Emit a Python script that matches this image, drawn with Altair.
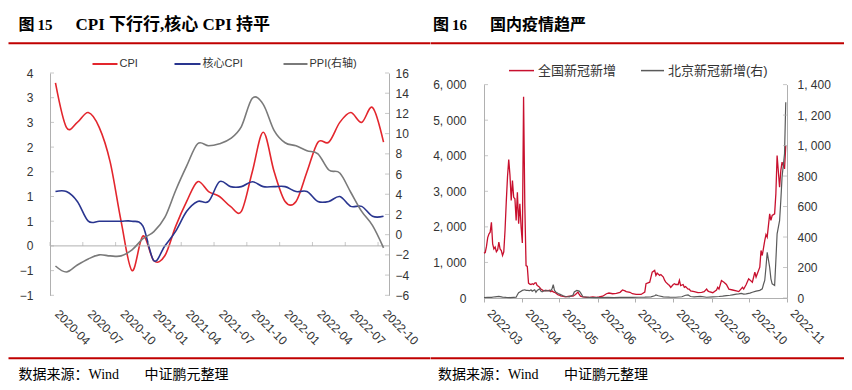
import altair as alt
import pandas as pd

# ---------------- 图15 data (monthly, %) ----------------
months = ["2020-04", "2020-05", "2020-06", "2020-07", "2020-08", "2020-09", "2020-10",
          "2020-11", "2020-12", "2021-01", "2021-02", "2021-03", "2021-04", "2021-05",
          "2021-06", "2021-07", "2021-08", "2021-09", "2021-10", "2021-11", "2021-12",
          "2022-01", "2022-02", "2022-03", "2022-04", "2022-05", "2022-06", "2022-07",
          "2022-08", "2022-09", "2022-10"]
cpi = [3.3, 2.4, 2.5, 2.7, 2.4, 1.7, 0.5, -0.5, 0.2,
       -0.3, -0.2, 0.4, 0.9, 1.3, 1.1, 1.0, 0.8, 0.7, 1.5, 2.3, 1.5,
       0.9, 0.9, 1.5, 2.1, 2.1, 2.5, 2.7, 2.5, 2.8, 2.1]
core = [1.1, 1.1, 0.9, 0.5, 0.5, 0.5, 0.5, 0.5, 0.4,
        -0.3, 0.0, 0.3, 0.7, 0.9, 0.9, 1.3, 1.2, 1.2, 1.3, 1.2, 1.2,
        1.2, 1.1, 1.1, 0.9, 0.9, 1.0, 0.8, 0.8, 0.6, 0.6]
ppi = [-3.1, -3.7, -3.0, -2.4, -2.0, -2.1, -2.1, -1.5, -0.4,
       0.3, 1.7, 4.4, 6.8, 9.0, 8.8, 9.0, 9.5, 10.7, 13.5, 12.9, 10.3,
       9.1, 8.8, 8.3, 8.0, 6.4, 6.1, 4.2, 2.3, 0.9, -1.3]
tick_months = ["2020-04", "2020-07", "2020-10", "2021-01", "2021-04", "2021-07",
               "2021-10", "2022-01", "2022-04", "2022-07", "2022-10"]
left_vals = [-1, -0.5, 0, 0.5, 1, 1.5, 2, 2.5, 3, 3.5]
ppi_vals = [-6, -4, -2, 0, 2, 4, 6, 8, 10, 12, 14, 16]

# ---------------- 图16 data (daily new cases, day offset from 2022-03-01) ----------------
nat_day = [0, 1, 2, 3, 4, 5, 6, 7, 8, 9, 10, 11, 12, 13, 14, 15, 16, 17, 18, 19, 20,
           21, 22, 23, 24, 25, 26, 27, 28, 29, 30, 31, 32, 33, 34, 35, 36, 37, 38, 39,
           40, 41, 42, 43, 44, 45, 46, 47, 48, 49, 50, 51, 52, 53, 54, 55, 56, 57, 58,
           59, 60, 61, 62, 63, 64, 66, 69, 72, 74, 76, 77, 78, 80, 83, 85, 88, 91, 93,
           96, 99, 101, 104, 107, 110, 112, 114, 115, 118, 120, 123, 125, 127, 130, 131,
           134, 136, 138, 139, 140, 142, 143, 145, 146, 147, 149, 150, 151, 153, 154,
           155, 157, 158, 159, 161, 162, 163, 165, 166, 167, 170, 173, 176, 178, 180,
           181, 182, 185, 188, 189, 190, 192, 194, 196, 198, 201, 204, 206, 209, 210,
           212, 214, 217, 219, 220, 223, 224, 225, 227, 228, 229, 231, 232, 233, 235,
           236, 237, 239, 240, 241, 243, 244]
nat_val = [1260, 1280, 1450, 1700, 1800, 1850, 2130, 1520, 1380, 1430, 1300, 1350, 1570,
           1380, 1335, 1195, 1300, 1900, 2700, 3400, 3890, 3450, 2740, 3300, 2830, 2790,
           2180, 2975, 2090, 2650, 1990, 1550, 5660, 2600, 913, 890, 420, 390, 380, 400,
           380, 420, 430, 350, 330, 300, 250, 230, 210, 200, 220, 200, 210, 220, 180, 200,
           170, 160, 140, 110, 90, 80, 60, 50, 45, 30, 50, 50, 100, 165, 100, 50, 30, 20,
           20, 30, 20, 30, 50, 120, 140, 120, 130, 160, 225, 200, 180, 160, 120, 100, 100,
           100, 165, 400, 445, 725, 775, 635, 700, 635, 660, 590, 500, 445, 380, 350, 300,
           380, 400, 380, 380, 500, 350, 380, 300, 320, 250, 250, 200, 180, 150, 160, 180,
           250, 200, 180, 150, 225, 300, 250, 490, 445, 380, 250, 225, 200, 180, 300, 250,
           380, 540, 445, 725, 590, 866, 1335, 1195, 1616, 1785, 1710, 2367, 2180, 2320,
           2367, 2930, 4006, 3115, 3580, 3820, 3630, 4287]
bj_day = [0, 3, 6, 9, 12, 15, 18, 21, 24, 26, 27, 28, 30, 31, 33, 34, 35, 37, 38, 39, 41,
          42, 43, 45, 46, 47, 49, 50, 51, 53, 54, 55, 56, 57, 58, 60, 62, 64, 66, 69, 72,
          73, 75, 77, 78, 80, 85, 90, 95, 100, 105, 110, 115, 120, 125, 130, 135, 138,
          139, 141, 145, 150, 155, 160, 163, 165, 167, 170, 175, 180, 185, 190, 193, 196,
          199, 201, 204, 206, 208, 210, 212, 215, 217, 220, 223, 225, 226, 227, 228, 229,
          230, 231, 232, 233, 235, 236, 237, 239, 240, 241, 243, 244]
bj_val = [3, 5, 4, 8, 10, 6, 4, 3, 4, 5, 21, 35, 45, 50, 54, 50, 50, 48, 54, 45, 54,
          38, 50, 60, 45, 40, 50, 45, 50, 45, 50, 60, 88, 50, 40, 30, 22, 15, 10, 8, 20,
          40, 50, 45, 35, 8, 4, 3, 3, 4, 3, 4, 5, 4, 5, 6, 8, 15,
          20, 15, 8, 6, 5, 8, 18, 20, 10, 8, 10, 5, 8, 10, 12, 15,
          18, 21, 25, 27, 30, 25, 27, 32, 38, 45, 50, 60, 90, 115, 202, 300,
          250, 200, 126, 93, 82, 246, 421, 508, 640, 793, 946, 1284]
nat_vals_axis = [0, 1000, 2000, 3000, 4000, 5000, 6000]
bj_vals_axis = [0, 200, 400, 600, 800, 1000, 1200, 1400]

# ---------------- styling ----------------
SANS = "Liberation Sans, Noto Sans CJK SC"
SERIF = "Liberation Serif, Noto Sans CJK SC"
GRAY = "#b0b0b0"
LABEL = "#333333"
RED_BAND = "#c00000"

# both panels share the same view top (page y 70.7)
OY = 70.7
W1, H1 = 339, 222.3
W2, H2 = 303, 225.0          # right view; its y range starts 11.6px below the view top
R_TOP = 82.3 - OY
TB = 27.5 - OY               # title baseline (relative to the view top)

one = pd.DataFrame({"k": [0]})


def text(x, y, s, size, font, weight="normal", color="#000000"):
    return alt.Chart(one).mark_text(
        align="left", baseline="alphabetic", fontSize=size, font=font,
        fontWeight=weight, color=color
    ).encode(x=alt.value(x), y=alt.value(y), text=alt.value(s))


def legend_text(x, y, s, size):
    return alt.Chart(one).mark_text(
        align="left", baseline="middle", fontSize=size, font=SANS, color=LABEL
    ).encode(x=alt.value(x), y=alt.value(y), text=alt.value(s))


def sample(x1, x2, y, color, width):
    return alt.Chart(one).mark_rule(color=color, strokeWidth=width).encode(
        x=alt.value(x1), x2=alt.value(x2), y=alt.value(y))


def band(x1, x2, y1, y2):
    return alt.Chart(one).mark_rect(color=RED_BAND).encode(
        x=alt.value(x1), x2=alt.value(x2), y=alt.value(y1), y2=alt.value(y2))


# ---------------- left panel ----------------
df1 = pd.DataFrame({"month": months, "cpi": cpi, "core": core, "ppi": ppi})
x1 = alt.X("month:O", scale=alt.Scale(type="point", padding=0.5),
           axis=alt.Axis(values=tick_months, labelAngle=45, labelAlign="left",
                         labelBaseline="middle", labelPadding=16, labelOffset=1,
                         ticks=False, domain=False, title=None))
yl = alt.Y("cpi:Q", scale=alt.Scale(domain=[-1, 3.5], nice=False, zero=False),
           axis=alt.Axis(values=left_vals, tickCount=len(left_vals),
                         labelExpr="format(datum.value >= 0 ? ceil(datum.value) : floor(datum.value), 'd')",
                         ticks=False, domainColor=GRAY, labelPadding=17, title=None))

cpi_line = alt.Chart(df1).mark_line(color="#e3262d", strokeWidth=1.6, interpolate="cardinal").encode(x=x1, y=yl)
core_line = alt.Chart(df1).mark_line(color="#29358f", strokeWidth=1.6, interpolate="cardinal").encode(
    x=x1, y=alt.Y("core:Q", title=None))
zero_rule = alt.Chart(pd.DataFrame({"v": [0]})).mark_rule(color=GRAY, strokeWidth=1).encode(y=alt.Y("v:Q", title=None))
zero_ticks = alt.Chart(pd.DataFrame({"month": tick_months, "v": [0] * len(tick_months)})).mark_tick(
    orient="vertical", size=4, thickness=1, color=GRAY, xOffset=-W1 / 62, yOffset=-2
).encode(x=x1, y=alt.Y("v:Q", title=None))
lticks = alt.Chart(pd.DataFrame({"v": left_vals})).mark_tick(
    orient="horizontal", size=4, thickness=1, color=GRAY).encode(x=alt.value(2), y=alt.Y("v:Q", title=None))

L0 = 49.5
left_deco = [
    text(18 - L0, TB, "图", 16, SERIF, "bold"),
    text(37 - L0, TB, "15", 15, SERIF, "bold"),
    text(75 - L0, TB, "CPI 下行行,核心 CPI 持平", 17, SERIF, "bold"),
    band(8 - L0, 430 - L0, 40 - OY, 42 - OY),
    band(8 - L0, 430 - L0, 355 - OY, 357 - OY),
    text(18 - L0, 377 - OY, "数据来源：Wind", 14, SERIF),
    text(144 - L0, 377 - OY, "中证鹏元整理", 14, SERIF),
    sample(42.5, 67.5, 61.7 - OY, "#e3262d", 2), legend_text(69.5, 61.7 - OY, "CPI", 11),
    sample(124.5, 150.5, 61.7 - OY, "#29358f", 2), legend_text(152.5, 61.7 - OY, "核心CPI", 11),
    sample(233.5, 257.5, 61.7 - OY, "#7a7a7a", 2), legend_text(259.5, 61.7 - OY, "PPI(右轴)", 11),
]

ppi_line = alt.Chart(df1).mark_line(color="#7a7a7a", strokeWidth=1.6, interpolate="cardinal").encode(
    x=x1,
    y=alt.Y("ppi:Q", scale=alt.Scale(domain=[-6, 16], nice=False, zero=False),
            axis=alt.Axis(orient="right", values=ppi_vals, tickCount=len(ppi_vals), ticks=False,
                          domainColor=GRAY, labelPadding=6, title=None, format="d")))
rticks = alt.Chart(pd.DataFrame({"v": ppi_vals})).mark_tick(
    orient="horizontal", size=4, thickness=1, color=GRAY).encode(x=alt.value(W1 - 2), y=alt.Y("v:Q", title=None))

left_panel = alt.layer(
    alt.layer(cpi_line, core_line, zero_rule, zero_ticks, lticks, *left_deco),
    alt.layer(ppi_line, rticks),
).resolve_scale(y="independent").properties(width=W1, height=H1)

# ---------------- right panel ----------------
start = pd.Timestamp("2022-03-01")
nat = pd.DataFrame({"date": start + pd.to_timedelta(nat_day, unit="D"), "v": nat_val})
bj = pd.DataFrame({"date": start + pd.to_timedelta(bj_day, unit="D"), "v": bj_val})

comma_expr = "replace(format(datum.value, ','), ',', ', ')"
x2 = alt.X("date:T",
           scale=alt.Scale(domain=[alt.DateTime(year=2022, month=3, date=1),
                                   alt.DateTime(year=2022, month=11, date=1)]),
           axis=alt.Axis(values=[alt.DateTime(year=2022, month=m, date=1) for m in range(3, 12)],
                         tickCount=9,
                         format="%Y-%m", labelAngle=45, labelAlign="left", labelBaseline="middle",
                         tickSize=4, tickColor=GRAY, domainColor=GRAY, labelPadding=9,
                         labelOffset=5, title=None))
nat_line = alt.Chart(nat).mark_line(color="#c8102e", strokeWidth=1.3).encode(
    x=x2,
    y=alt.Y("v:Q", scale=alt.Scale(domain=[0, 6000], nice=False, range=[H2, R_TOP]),
            axis=alt.Axis(values=nat_vals_axis, tickCount=len(nat_vals_axis), labelExpr=comma_expr,
                          ticks=False, domainColor=GRAY, labelPadding=18, title=None)))
lticks2 = alt.Chart(pd.DataFrame({"v": nat_vals_axis})).mark_tick(
    orient="horizontal", size=4, thickness=1, color=GRAY).encode(x=alt.value(2), y=alt.Y("v:Q", title=None))

R0 = 483
right_deco = [
    text(432 - R0, TB, "图", 16, SERIF, "bold"),
    text(451 - R0, TB, "16", 15, SERIF, "bold"),
    text(489 - R0, TB, "国内疫情趋严", 16, SERIF, "bold"),
    band(430 - R0, 843 - R0, 40 - OY, 42 - OY),
    band(430 - R0, 843 - R0, 355 - OY, 357 - OY),
    text(437 - R0, 377 - OY, "数据来源：Wind", 14, SERIF),
    text(563 - R0, 377 - OY, "中证鹏元整理", 14, SERIF),
    sample(25, 50, 68.3 - OY, "#c8102e", 1.5), legend_text(54, 68.3 - OY, "全国新冠新增", 13),
    sample(157, 180, 68.3 - OY, "#5a5a5a", 1.5), legend_text(184, 68.3 - OY, "北京新冠新增(右)", 13),
]

bj_line = alt.Chart(bj).mark_line(color="#5a5a5a", strokeWidth=1.2).encode(
    x=x2,
    y=alt.Y("v:Q", scale=alt.Scale(domain=[0, 1400], nice=False, range=[H2, R_TOP]),
            axis=alt.Axis(orient="right", values=bj_vals_axis, tickCount=len(bj_vals_axis),
                          labelExpr=comma_expr, ticks=False, domainColor=GRAY,
                          labelPadding=10, title=None)))
rticks2 = alt.Chart(pd.DataFrame({"v": bj_vals_axis})).mark_tick(
    orient="horizontal", size=4, thickness=1, color=GRAY).encode(x=alt.value(W2 - 2), y=alt.Y("v:Q", title=None))

right_panel = alt.layer(
    alt.layer(nat_line, lticks2, *right_deco),
    alt.layer(bj_line, rticks2),
).resolve_scale(y="independent").properties(width=W2, height=H2)

chart = alt.concat(
    left_panel, right_panel, columns=2, spacing=0, bounds="full",
    padding={"left": 0, "top": 7, "right": 0, "bottom": 0},
).configure_view(stroke=None).configure_axis(
    labelFont=SANS, labelFontSize=12, labelColor=LABEL, grid=False,
    labelOverlap=False, labelFlush=False
)

chart.save("out.html", embed_options={"renderer": "svg", "actions": False})
